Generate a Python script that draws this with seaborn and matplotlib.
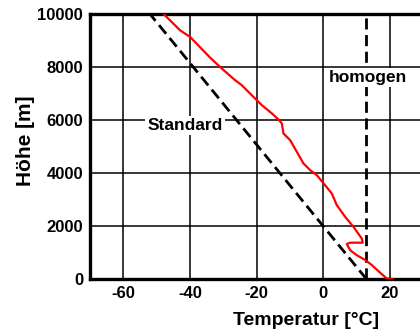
import matplotlib
matplotlib.use("Agg")
import matplotlib.pyplot as plt
import seaborn as sns
import pandas as pd

# Data
red_T = [21, 19.1, 17.1, 14.6, 12.6, 10.1, 8.1, 7.1, 8.1, 11.9, 11.6, 9.1, 6.6, 4.1,
         2.6, 0.6, -1.9, -3.9, -5.9, -7.9, -9.9, -11.9, -12.4, -13.4, -15.4, -18.4,
         -20.9, -24.4, -26.4, -30.4, -33.9, -39.9, -42.9, -47.9]
red_h = [0, 20, 240, 530, 720, 900, 1090, 1320, 1370, 1370, 1530, 1970, 2350, 2790,
         3230, 3540, 3920, 4110, 4360, 4800, 5240, 5490, 5870, 6020, 6250, 6560,
         6870, 7310, 7500, 7940, 8350, 9130, 9380, 10000]
std_T = [13, -52]
std_h = [0, 10000]
hom_T = [13, 13]
hom_h = [0, 10000]
x_ticks = [-60, -40, -20, 0, 20]
y_ticks = [0, 2000, 4000, 6000, 8000, 10000]

sns.set_theme(style="white")
plt.rcParams['font.family'] = ['Liberation Sans', 'DejaVu Sans']
plt.rcParams['font.weight'] = 'bold'
plt.rcParams['axes.unicode_minus'] = False
plt.rcParams['text.color'] = 'black'
plt.rcParams['axes.labelcolor'] = 'black'

fig = plt.figure(figsize=(4.2, 3.35), dpi=100)
ax = fig.add_axes([90/420, 56/335, 333/420, 265/335])

ax.set_xlim(-70, 30)
ax.set_ylim(0, 10000)
ax.set_xticks(x_ticks)
ax.set_yticks(y_ticks)
ax.grid(True, color='black', linewidth=1.1)
ax.set_axisbelow(True)

df_red = pd.DataFrame({'T': red_T, 'h': red_h})
sns.lineplot(data=df_red, x='T', y='h', sort=False, estimator=None, color='#ff0000',
             linewidth=1.6, ax=ax, zorder=4)
sns.lineplot(x=std_T, y=std_h, sort=False, estimator=None, color='black',
             linewidth=2.0, ax=ax, zorder=3)
sns.lineplot(x=hom_T, y=hom_h, sort=False, estimator=None, color='black',
             linewidth=2.0, ax=ax, zorder=3)
for ln in ax.lines[1:]:
    ln.set_linestyle((0, (4, 2)))

ax.text(-41.5, 5800, 'Standard', ha='center', va='center', fontsize=12.5, fontweight='bold',
        color='black', bbox=dict(facecolor='white', edgecolor='none', pad=1.5), zorder=5)
ax.text(13.4, 7600, 'homogen', ha='center', va='center', fontsize=12.5, fontweight='bold',
        color='black', bbox=dict(facecolor='white', edgecolor='none', pad=1.5), zorder=5)

for s in ['top', 'left', 'bottom']:
    ax.spines[s].set_visible(True)
    ax.spines[s].set_linewidth(2.4)
    ax.spines[s].set_color('black')
ax.spines['right'].set_visible(False)

ax.tick_params(length=0, labelsize=12, pad=5, colors='black')
for lab in ax.get_xticklabels() + ax.get_yticklabels():
    lab.set_fontweight('bold')

ax.set_xlabel('Temperatur [°C]', fontsize=14, fontweight='bold', color='black')
ax.set_ylabel('Höhe [m]', fontsize=15, fontweight='bold', color='black')
ax.xaxis.set_label_coords(0.649, -0.125)
ax.yaxis.set_label_coords(-0.165, 0.52)

fig.savefig('out.png', dpi=100)
